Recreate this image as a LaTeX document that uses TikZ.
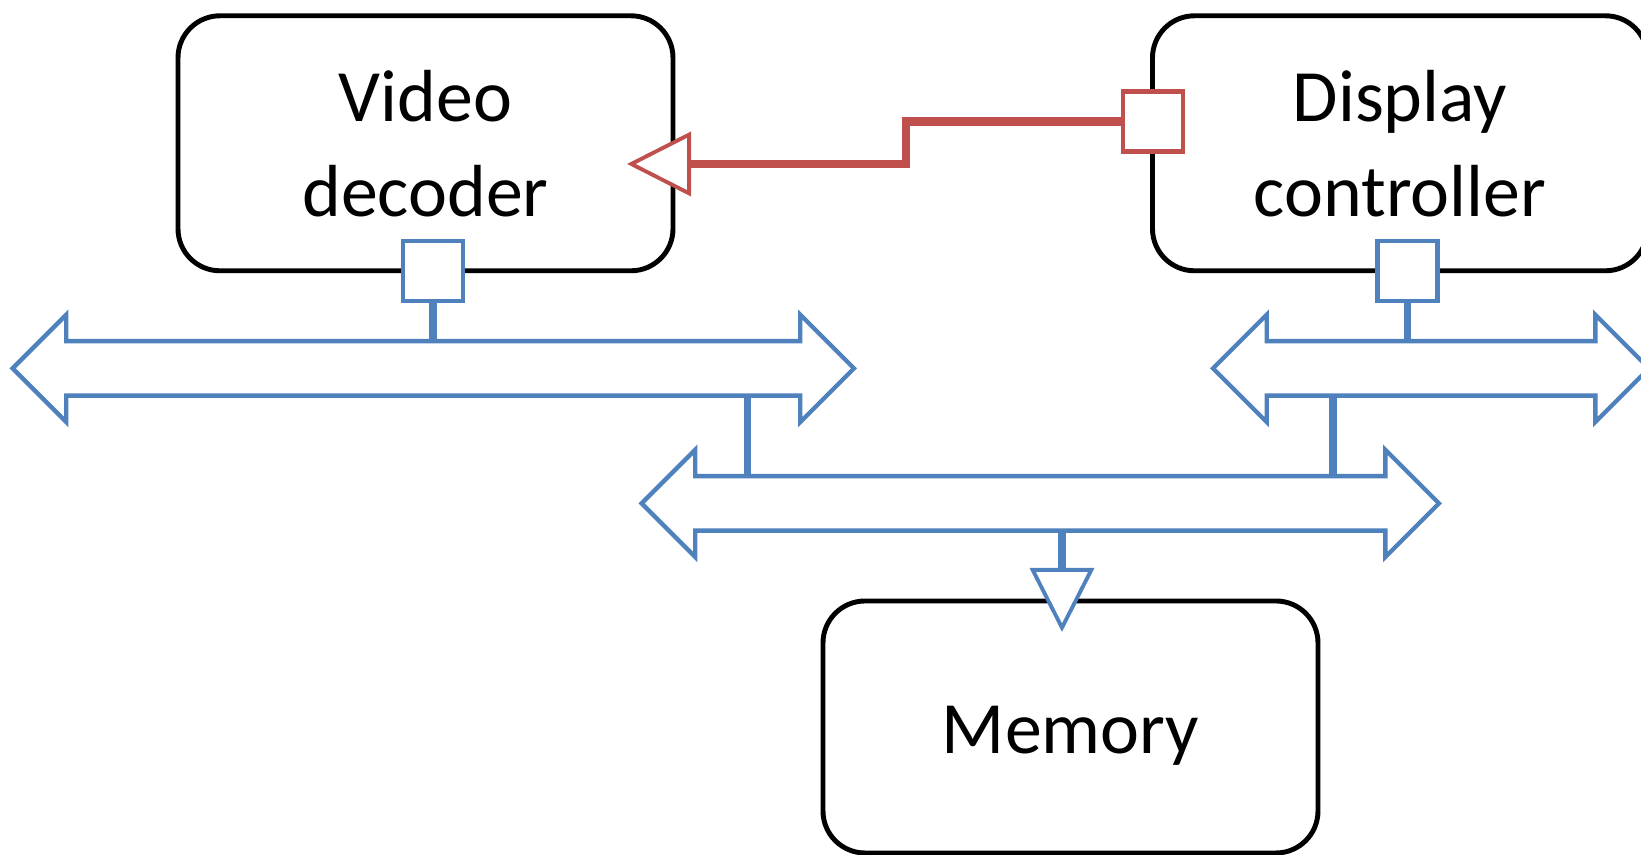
\documentclass[tikz,border=0pt]{standalone}
\usepackage{fontspec}
\setmainfont{Carlito}
\usetikzlibrary{shapes.arrows,arrows.meta}
\definecolor{busblue}{HTML}{4F81BD}
\definecolor{linkred}{HTML}{C0504D}
\tikzset{
  block/.style={draw, rounded corners=0.42cm, line width=1.4pt, minimum width=4.95cm,
    minimum height=2.55cm, align=center, font=\fontsize{21}{27}\selectfont},
  port/.style={draw, fill=white, minimum size=0.6cm, inner sep=0pt, line width=1.15pt},
  bus/.style={draw=busblue, fill=white, double arrow, double arrow head extend=0.265cm,
    inner xsep=0pt, inner ysep=0.25cm, line width=1.25pt},
  tap/.style={busblue, line width=2pt},
  opentip/.style={-{Triangle[fill=white, line width=1.1pt, length=0.64cm, width=0.64cm]}},
}

\begin{document}
\begin{tikzpicture}
  \useasboundingbox (0,0) rectangle (16.41,8.55);

  % units
  \node[block] (vdec) at (4.255,7.117) {Video\\decoder};
  \node[block] (dctrl) at (14.0,7.117) {Display\\controller};
  \node[block, minimum height=2.52cm] (mem) at (10.705,1.28) {\raisebox{-0.9mm}[\height][\depth]{Memory}};

  % bus interfaces
  \node[port, draw=busblue] (vport) at (4.33,5.84) {};
  \node[port, draw=busblue] (dport) at (14.075,5.84) {};
  \node[port, draw=linkred] (rport) at (11.53,7.335) {};

  % buses
  \node[bus, minimum height=8.414cm] (bus1) at (4.333,4.866) {};
  \node[bus, minimum height=4.36cm] (bus2) at (14.31,4.866) {};
  \node[bus, minimum height=7.974cm] (bus3) at (10.403,3.516) {};

  \path (bus1.south) ++(3.14,0) coordinate (j1);
  \path (bus2.south) ++(-0.98,0) coordinate (j2);
  \coordinate (vin) at (6.27,6.91);
  \coordinate (min) at (10.62,2.23);

  \draw[tap] (vport) -- (vport |- bus1.north);
  \draw[tap] (dport) -- (dport |- bus2.north);
  \draw[tap] (j1) -- (j1 |- bus3.north);
  \draw[tap] (j2) -- (j2 |- bus3.north);
  \draw[tap, opentip] (bus3.south -| min) -- (min);

  \draw[linkred, line width=2.3pt, opentip] (rport.west) -- ++(-2.15,0) |- (vin);
\end{tikzpicture}
\end{document}
